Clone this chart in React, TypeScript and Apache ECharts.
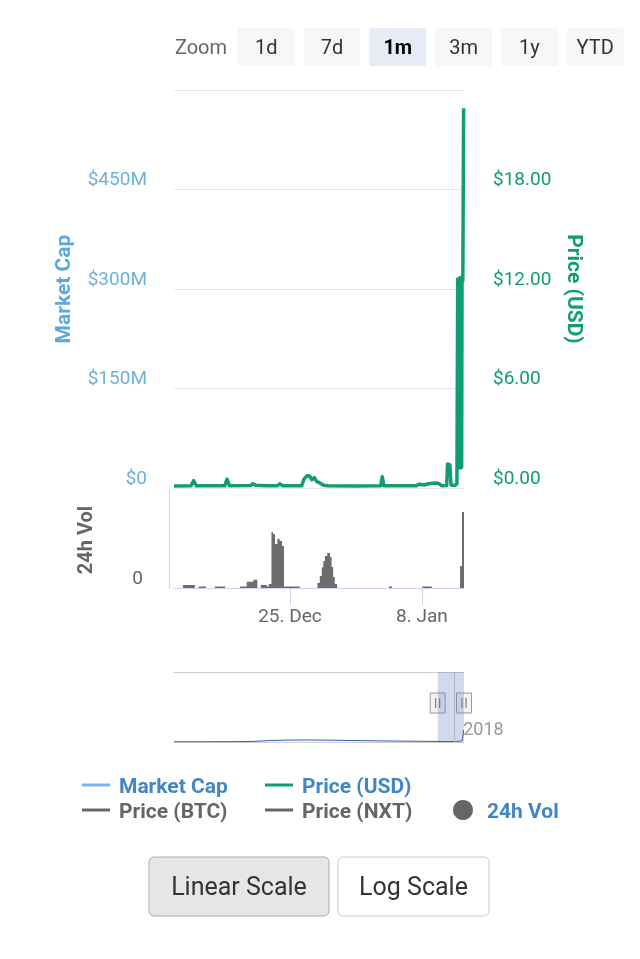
import React, { useEffect, useRef } from 'react';
import * as echarts from 'echarts';

const FONT = 'Roboto, "Noto Sans", sans-serif';
const GREEN = '#109d74';
const MCAP_BLUE = '#7cb5ec';
const MCAP_LABEL = '#6cb2dd';
const LEGEND_BLUE = '#4286c4';
const GRAY = '#666666';
const MONTHS = ['Jan', 'Feb', 'Mar', 'Apr', 'May', 'Jun', 'Jul', 'Aug', 'Sep', 'Oct', 'Nov', 'Dec'];

const ts = (s: string) => Date.parse(s.replace(' ', 'T') + ':00Z');

// ---- ranges & ticks ----
const viewRange = ['2017-12-12 17:00', '2018-01-12 11:00'];
const navRange = ['2017-02-07 00:00', '2018-01-12 11:00'];
const xTickDates = ['2017-12-25 00:00', '2018-01-08 00:00'];
const navTickDates = ['2018-01-01 00:00'];
const marketCapAxis = { max: 600e6, step: 150e6 };
const priceAxis = { max: 24, step: 6 };
const volumeAxis = { max: 1e6 };

// ---- Price (USD) ----
const priceTimes = [
  '2017-12-12 17:00', '2017-12-14 12:00', '2017-12-14 19:00', '2017-12-15 02:00',
  '2017-12-18 02:00', '2017-12-18 08:00', '2017-12-18 14:00', '2017-12-20 20:00',
  '2017-12-21 02:00', '2017-12-21 10:00', '2017-12-22 12:00', '2017-12-23 16:00',
  '2017-12-23 22:00', '2017-12-24 06:00', '2017-12-26 06:00', '2017-12-26 12:00',
  '2017-12-26 20:00', '2017-12-27 02:00', '2017-12-27 08:00', '2017-12-27 14:00',
  '2017-12-27 20:00', '2017-12-28 04:00', '2017-12-28 14:00', '2017-12-29 00:00',
  '2018-01-01 00:00', '2018-01-03 15:00', '2018-01-03 19:00', '2018-01-03 23:00',
  '2018-01-07 10:00', '2018-01-07 16:00', '2018-01-08 06:00', '2018-01-08 18:00',
  '2018-01-09 08:00', '2018-01-09 18:00', '2018-01-10 02:00', '2018-01-10 15:00',
  '2018-01-10 17:00', '2018-01-10 23:00', '2018-01-11 02:00', '2018-01-11 12:00',
  '2018-01-11 17:00', '2018-01-11 19:00', '2018-01-11 20:00', '2018-01-11 22:00',
  '2018-01-11 23:00', '2018-01-12 01:00', '2018-01-12 02:00', '2018-01-12 04:00',
  '2018-01-12 05:00', '2018-01-12 06:00', '2018-01-12 08:00', '2018-01-12 10:00',
];
const priceUsd = [
  0.12, 0.13, 0.44, 0.13,
  0.13, 0.54, 0.14, 0.15,
  0.26, 0.16, 0.13, 0.14,
  0.25, 0.14, 0.14, 0.55,
  0.74, 0.72, 0.5, 0.62,
  0.4, 0.3, 0.16, 0.13,
  0.12, 0.13, 0.68, 0.14,
  0.13, 0.22, 0.18, 0.26,
  0.3, 0.28, 0.14, 0.15,
  1.45, 1.4, 0.18, 0.15,
  0.25, 12.6, 1.2, 12.6,
  1.3, 12.7, 1.2, 12.6,
  1.25, 12.7, 12.5, 22.9,
];

// ---- 24h Vol (each value holds until the next time) ----
const volTimes = [
  '2017-12-13 16:00', '2017-12-14 22:00', '2017-12-15 08:00', '2017-12-16 02:00',
  '2017-12-17 01:00', '2017-12-18 03:00', '2017-12-19 17:00', '2017-12-20 10:00',
  '2017-12-21 03:00', '2017-12-21 13:00', '2017-12-21 22:00', '2017-12-22 13:00',
  '2017-12-22 18:00', '2017-12-23 01:00', '2017-12-23 05:00', '2017-12-23 10:00',
  '2017-12-23 16:00', '2017-12-23 22:00', '2017-12-24 04:00', '2017-12-24 09:00',
  '2017-12-26 01:00', '2017-12-27 22:00', '2017-12-28 04:00', '2017-12-28 09:00',
  '2017-12-28 13:00', '2017-12-28 17:00', '2017-12-28 23:00', '2017-12-29 06:00',
  '2017-12-29 10:00', '2017-12-29 14:00', '2017-12-29 18:00', '2017-12-30 00:00',
  '2018-01-04 12:00', '2018-01-04 20:00', '2018-01-08 01:00', '2018-01-09 01:00',
  '2018-01-12 01:00', '2018-01-12 06:00', '2018-01-12 11:00',
];
const volUsd = [
  30000, 0, 15000, 0,
  15000, 0, 15000, 63000,
  83000, 0, 30000, 15000,
  40000, 560000, 540000, 440000,
  490000, 470000, 420000, 15000,
  0, 50000, 120000, 207000,
  270000, 320000, 350000, 310000,
  210000, 110000, 40000, 0,
  15000, 0, 15000, 0,
  220000, 760000, 760000,
];

// ---- navigator series ----
const navTimes = [
  '2017-02-07 00:00', '2017-03-15 00:00', '2017-04-20 00:00', '2017-05-10 00:00',
  '2017-05-30 00:00', '2017-06-20 00:00', '2017-07-15 00:00', '2017-08-10 00:00',
  '2017-09-05 00:00', '2017-10-01 00:00', '2017-11-01 00:00', '2017-12-01 00:00',
  '2017-12-25 00:00', '2018-01-05 00:00', '2018-01-10 00:00', '2018-01-11 00:00',
  '2018-01-12 00:00',
];
const navValues = [
  0.08, 0.1, 0.12, 0.2,
  0.5, 0.65, 0.7, 0.62,
  0.5, 0.4, 0.3, 0.22,
  0.15, 0.2, 0.4, 1.5,
  4.1,
];

// ---- texts ----
const zoomButtons = ['1d', '7d', '1m', '3m', '1y', 'YTD'];
const selectedZoom = '1m';
const legendRow1 = [
  { name: 'Market Cap', line: MCAP_BLUE, text: LEGEND_BLUE },
  { name: 'Price (USD)', line: GREEN, text: LEGEND_BLUE },
];
const legendRow2 = [
  { name: 'Price (BTC)', line: GRAY, text: GRAY },
  { name: 'Price (NXT)', line: GRAY, text: GRAY },
];
const volLegend = '24h Vol';
const scaleButtons = ['Linear Scale', 'Log Scale'];

function buildStaticGraphics(): any[] {
  const g: any[] = [];
  g.push({
    type: 'text', x: 201, y: 47,
    style: { text: 'Zoom', fill: GRAY, fontSize: 20, fontFamily: FONT, align: 'center', verticalAlign: 'middle' },
  });
  zoomButtons.forEach((b, i) => {
    const x0 = 237.7 + i * 65.8;
    const sel = b === selectedZoom;
    g.push({ type: 'rect', shape: { x: x0, y: 28, width: 57, height: 38, r: 2 }, style: { fill: sel ? '#e6ebf5' : '#f7f7f7' } });
    g.push({
      type: 'text', x: x0 + 28.5, y: 47,
      style: {
        text: b, fill: sel ? '#000' : '#333', fontSize: 20, fontWeight: sel ? 'bold' : 'normal',
        fontFamily: FONT, align: 'center', verticalAlign: 'middle',
      },
    });
  });
  g.push({
    type: 'text', x: 63, y: 289, rotation: Math.PI / 2,
    style: { text: 'Market Cap', fill: '#5aaade', fontSize: 21, fontWeight: 'bold', fontFamily: FONT, align: 'center', verticalAlign: 'middle' },
  });
  g.push({
    type: 'text', x: 575, y: 289, rotation: -Math.PI / 2,
    style: { text: 'Price (USD)', fill: GREEN, fontSize: 21, fontWeight: 'bold', fontFamily: FONT, align: 'center', verticalAlign: 'middle' },
  });
  g.push({
    type: 'text', x: 85, y: 540, rotation: Math.PI / 2,
    style: { text: '24h Vol', fill: GRAY, fontSize: 20, fontWeight: 'bold', fontFamily: FONT, align: 'center', verticalAlign: 'middle' },
  });
  const cols = [82, 265];
  [legendRow1, legendRow2].forEach((row, r) => {
    const y = 785 + r * 25;
    row.forEach((it, c) => {
      const x = cols[c];
      g.push({ type: 'line', shape: { x1: x, y1: y, x2: x + 28, y2: y }, style: { stroke: it.line, lineWidth: 3 } });
      g.push({
        type: 'text', x: x + 37, y: y + 1,
        style: { text: it.name, fill: it.text, fontSize: 21, fontWeight: 'bold', fontFamily: FONT, align: 'left', verticalAlign: 'middle' },
      });
    });
  });
  g.push({ type: 'circle', shape: { cx: 463, cy: 810, r: 10 }, style: { fill: GRAY } });
  g.push({
    type: 'text', x: 487, y: 811,
    style: { text: volLegend, fill: LEGEND_BLUE, fontSize: 21, fontWeight: 'bold', fontFamily: FONT, align: 'left', verticalAlign: 'middle' },
  });
  const bx = [{ x: 149, w: 180, fill: '#e6e6e6', stroke: '#adadad' }, { x: 338, w: 151, fill: '#ffffff', stroke: '#cccccc' }];
  scaleButtons.forEach((b, i) => {
    const p = bx[i];
    g.push({ type: 'rect', shape: { x: p.x, y: 857, width: p.w, height: 59, r: 5 }, style: { fill: p.fill, stroke: p.stroke, lineWidth: 1 } });
    g.push({
      type: 'text', x: p.x + p.w / 2, y: 886,
      style: { text: b, fill: '#333', fontSize: 25, fontFamily: FONT, align: 'center', verticalAlign: 'middle' },
    });
  });
  return g;
}

function fmtDate(v: number) {
  const d = new Date(v);
  return d.getUTCDate() + '. ' + MONTHS[d.getUTCMonth()];
}

export default function App() {
  const ref = useRef<HTMLDivElement>(null);
  useEffect(() => {
    if (!ref.current) return;
    const chart = echarts.init(ref.current, undefined, { renderer: 'svg' });
    const viewMin = ts(viewRange[0]);
    const viewMax = ts(viewRange[1]);
    const option: any = {
      animation: false,
      textStyle: { fontFamily: FONT },
      grid: [
        { left: 174, top: 90, width: 290, height: 398 },
        { left: 174, top: 488, width: 290, height: 100 },
        { left: 174, top: 672, width: 290, height: 70 },
      ],
      xAxis: [
        { type: 'value', gridIndex: 0, min: viewMin, max: viewMax, show: false },
        {
          type: 'value', gridIndex: 1, min: viewMin, max: viewMax,
          axisLine: { show: true, onZero: false, lineStyle: { color: '#ccd6eb', width: 1 } },
          axisTick: { show: true, customValues: xTickDates.map(ts), length: 17, lineStyle: { color: '#ccd6eb' } },
          axisLabel: { customValues: xTickDates.map(ts), formatter: (v: number) => fmtDate(v), color: GRAY, fontSize: 19, margin: 18 },
          splitLine: { show: false },
        },
        {
          type: 'value', gridIndex: 2, min: ts(navRange[0]), max: ts(navRange[1]),
          axisLine: { show: false }, axisTick: { show: false }, splitLine: { show: false },
          axisLabel: {
            customValues: navTickDates.map(ts), inside: true,
            formatter: (v: number) => String(new Date(v).getUTCFullYear()),
            color: '#999', fontSize: 18, align: 'left', verticalAlign: 'bottom', margin: 5, padding: [0, 0, 0, 9],
          },
        },
      ],
      yAxis: [
        {
          type: 'value', gridIndex: 0, position: 'left', min: 0, max: marketCapAxis.max, interval: marketCapAxis.step,
          axisLine: { show: false }, axisTick: { show: false },
          splitLine: { show: true, lineStyle: { color: '#e6e6e6', width: 1 } },
          axisLabel: {
            formatter: (v: number) => (v >= marketCapAxis.max ? '' : v === 0 ? '$0' : '$' + v / 1e6 + 'M'),
            color: MCAP_LABEL, fontSize: 19, margin: 27, verticalAlign: 'bottom', lineHeight: 22,
          },
        },
        {
          type: 'value', gridIndex: 0, position: 'right', min: 0, max: priceAxis.max, interval: priceAxis.step,
          axisLine: { show: false }, axisTick: { show: false }, splitLine: { show: false },
          axisLabel: {
            formatter: (v: number) => (v >= priceAxis.max ? '' : '$' + v.toFixed(2)),
            color: GREEN, fontSize: 19, margin: 29, verticalAlign: 'bottom', lineHeight: 22,
          },
        },
        {
          type: 'value', gridIndex: 1, min: 0, max: volumeAxis.max, interval: volumeAxis.max, offset: 5,
          axisLine: { show: true, lineStyle: { color: '#ccd6eb', width: 1 } }, axisTick: { show: false },
          splitLine: { show: false },
          axisLabel: {
            formatter: (v: number) => (v === 0 ? '0' : ''),
            color: GRAY, fontSize: 19, margin: 26, verticalAlign: 'bottom', lineHeight: 22,
          },
        },
        {
          type: 'value', gridIndex: 2, min: 0, max: 24, interval: 24,
          axisLine: { show: false }, axisTick: { show: false }, axisLabel: { show: false },
          splitLine: { show: true, lineStyle: { color: '#cccccc', width: 1 } },
        },
      ],
      series: [
        {
          type: 'line', name: 'Price (USD)', xAxisIndex: 0, yAxisIndex: 1,
          data: priceTimes.map((s, i) => [ts(s), priceUsd[i]]),
          symbol: 'none', lineStyle: { color: GREEN, width: 3.5, join: 'round' }, itemStyle: { color: GREEN }, z: 3,
        },
        {
          type: 'line', name: '24h Vol', xAxisIndex: 1, yAxisIndex: 2, step: 'end',
          data: volTimes.map((s, i) => [ts(s), volUsd[i]]),
          symbol: 'none', lineStyle: { opacity: 0, width: 0 }, areaStyle: { color: '#6d6d6d', opacity: 1 },
        },
        {
          type: 'line', name: 'navigator', xAxisIndex: 2, yAxisIndex: 3,
          data: navTimes.map((s, i) => [ts(s), navValues[i]]),
          symbol: 'none', lineStyle: { color: '#335cad', width: 1 }, areaStyle: { color: 'rgba(51,92,173,0.05)' },
          markArea: {
            silent: true, itemStyle: { color: 'rgba(102,133,194,0.3)' },
            data: [[{ xAxis: viewMin }, { xAxis: viewMax }]],
          },
          markLine: {
            silent: true, symbol: 'none', label: { show: false },
            lineStyle: { color: '#aab4cc', width: 1, type: 'solid' },
            data: navTickDates.map((s) => ({ xAxis: ts(s) })),
          },
        },
      ],
    };
    chart.setOption(option);
    const handles: any[] = [];
    [viewMin, viewMax].forEach((t) => {
      const px = chart.convertToPixel({ xAxisIndex: 2 } as any, t) as number;
      handles.push({ type: 'rect', shape: { x: px - 7.5, y: 693, width: 15, height: 20 }, style: { fill: '#f2f2f2', stroke: '#999', lineWidth: 1 } });
      handles.push({ type: 'line', shape: { x1: px - 2, y1: 698, x2: px - 2, y2: 708 }, style: { stroke: '#666', lineWidth: 1 } });
      handles.push({ type: 'line', shape: { x1: px + 2, y1: 698, x2: px + 2, y2: 708 }, style: { stroke: '#666', lineWidth: 1 } });
    });
    chart.setOption({ graphic: [...buildStaticGraphics(), ...handles] });
    return () => chart.dispose();
  }, []);
  return <div ref={ref} style={{ position: 'fixed', left: 0, top: 0, width: 640, height: 959 }} />;
}
